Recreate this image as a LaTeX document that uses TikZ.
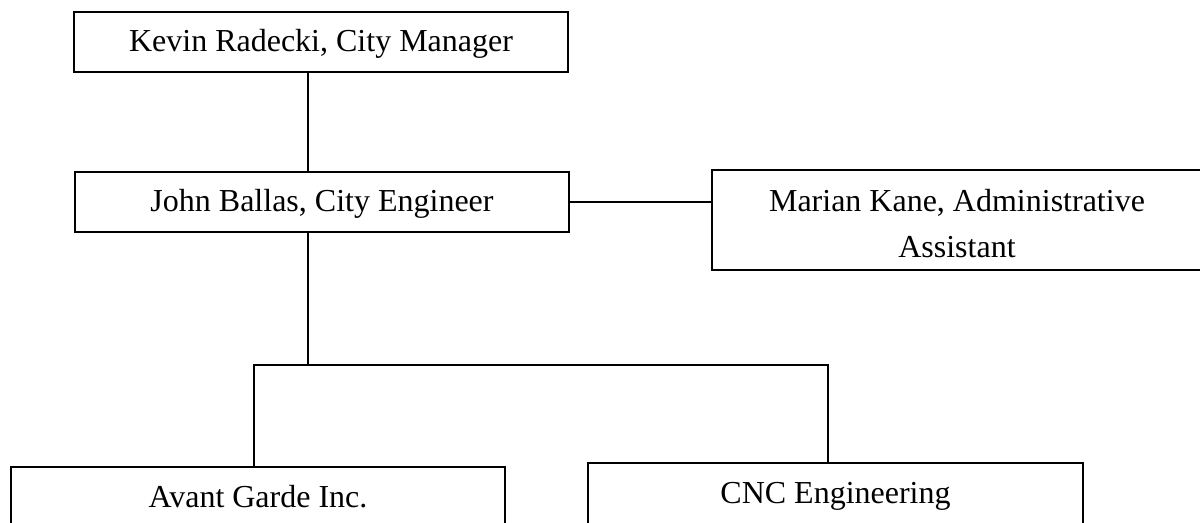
\documentclass[tikz,border=0pt]{standalone}
\usepackage{fontspec}
\setmainfont{Liberation Serif}
\begin{document}
\begin{tikzpicture}[x=0.75pt,y=-0.75pt,
  orgbox/.style={draw=black, line width=1.4pt, rectangle, inner sep=0pt,
    font=\fontsize{24}{34.5}\selectfont, align=center},
  link/.style={draw=black, line width=1pt}]
\useasboundingbox[fill=white] (0,0) rectangle (1200,523);
% boxes
\node[orgbox, minimum width=494*0.75pt, minimum height=60*0.75pt,
  text height=20pt, text depth=5pt] (k) at (321,42) {Kevin Radecki, City Manager};
\node[orgbox, minimum width=494*0.75pt, minimum height=60*0.75pt,
  text height=20pt, text depth=5pt] (j) at (322,202) {John Ballas, City Engineer};
\node[orgbox, minimum width=490*0.75pt, minimum height=100*0.75pt,
  text height=56pt, text depth=0pt] (m) at (957,220)
  {Marian Kane, Administrative\\Assistant};
\node[orgbox, anchor=north, minimum width=494*0.75pt,
  text height=30.75pt, text depth=30pt] (a) at (258,466) {Avant Garde Inc.};
\node[orgbox, anchor=north, minimum width=495*0.75pt,
  text height=30.75pt, text depth=30pt] (c) at (835.5,462) {CNC Engineering};
% junction points
\coordinate (trunk) at (308,365);
\coordinate (la) at (254,365);
\coordinate (ra) at (828,365);
% connectors
\draw[link] (k.south -| trunk) -- (j.north -| trunk);
\draw[link] (j.south -| trunk) -- (trunk);
\draw[link] (j.east) -- (j.east -| m.west);
\draw[link] (a.north -| la) -- (la) -- (ra) -- (c.north -| ra);
\end{tikzpicture}
\end{document}
